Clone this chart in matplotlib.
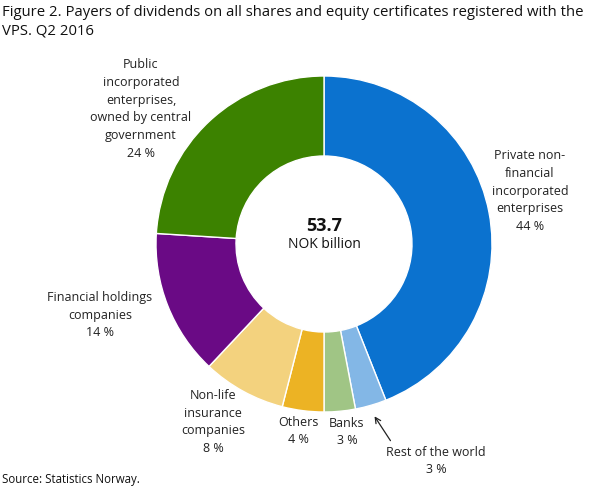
import matplotlib.pyplot as plt

# === Data ===
labels = ["Private non-\nfinancial\nincorporated\nenterprises",
          "Rest of the world", "Banks", "Others",
          "Non-life\ninsurance\ncompanies",
          "Financial holdings\ncompanies",
          "Public\nincorporated\nenterprises,\nowned by central\ngovernment"]
shares = [44, 3, 3, 4, 8, 14, 24]
colors = ["#0b72cf", "#83b7e6", "#a0c585", "#ecb324", "#f3d27e", "#6a0a85", "#3c8200"]
total = "53.7"

# label positions in pixels (x, y from top)
label_pos = [(530, 191), (436, 461), (347, 432), (298, 431),
             (213, 422), (100, 315), (141, 109)]

W, H = 609, 488
plt.rcParams['font.family'] = ['Open Sans', 'DejaVu Sans']

fig = plt.figure(figsize=(W / 100, H / 100), dpi=100)
ax = fig.add_axes([0, 0, 1, 1])

ax.pie(shares, colors=colors, startangle=90, counterclock=False,
       center=(324, H - 244), radius=168,
       wedgeprops=dict(width=80, edgecolor="white", linewidth=1))
ax.set_xlim(0, W)
ax.set_ylim(0, H)
ax.set_aspect("auto")
ax.axis("off")

for lab, s, (px, py) in zip(labels, shares, label_pos):
    ax.text(px, H - py, f"{lab}\n{s} %", ha="center", va="center",
            fontsize=9, color="#222222", linespacing=1.48)

# arrow for rest of the world
ax.annotate("", xy=(373, H - 414), xytext=(392, H - 443),
            arrowprops=dict(arrowstyle="->", color="#222222", lw=0.9))

ax.text(324, H - 226, total, ha="center", va="center", fontsize=13,
        fontweight="bold", color="#111111")
ax.text(324, H - 245, "NOK billion", ha="center", va="center",
        fontsize=10, color="#111111")

fig.text(2 / W, 1 - 5 / H,
         "Figure 2. Payers of dividends on all shares and equity certificates registered with the\nVPS. Q2 2016",
         ha="left", va="top", fontsize=10.7, color="#111111", linespacing=1.35)
fig.text(2 / W, 1 - 479 / H, "Source: Statistics Norway.", ha="left",
         va="center", fontsize=8.3, color="#111111")

fig.savefig("out.png", dpi=100)
